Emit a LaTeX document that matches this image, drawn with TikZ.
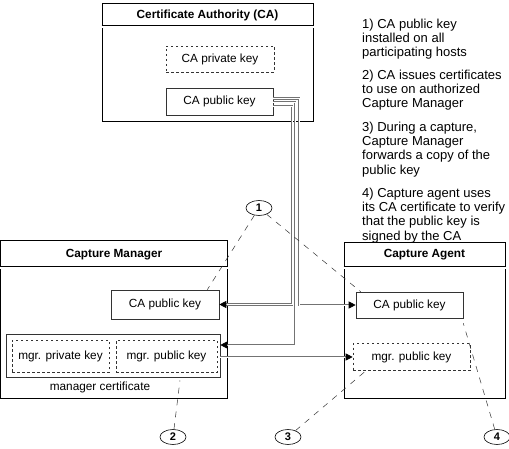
\documentclass[tikz,border=0pt]{standalone}
\usepackage{fontspec}
\setmainfont{Liberation Sans}
\usetikzlibrary{shapes.geometric,arrows.meta}

\begin{document}
\begin{tikzpicture}[%
    x=1pt, y=-1pt,
    panel/.style={%
        draw,
        line width=1pt,
        inner sep=0pt,
    },
    title/.style={font=\fontsize{11.8}{14}\selectfont\bfseries},
    keybox/.style={%
        draw=black!80,
        line width=0.6pt,
        inner sep=0pt,
        font=\fontsize{11.8}{14}\selectfont,
    },
    dashbox/.style={keybox, dash pattern=on 2.5pt off 2.5pt},
    rule/.style={double, double distance=2pt, line width=0.5pt},
    wire/.style={%
        draw=black!55,
        double=white,
        double distance=0.5pt,
        line width=0.8pt,
        -{Triangle[length=7pt,width=7pt,black]},
    },
    callout/.style={draw=black!80, line width=0.5pt, dash pattern=on 6pt off 6pt},
    num/.style={%
        ellipse, draw,
        line width=0.6pt,
        minimum width=26pt,
        minimum height=15pt,
        inner sep=0pt,
        font=\fontsize{11}{12}\selectfont\bfseries,
    },
    note/.style={anchor=north west, align=left, inner sep=0pt, font=\fontsize{13}{14.3}\selectfont},
]
\useasboundingbox (0,0) rectangle (509,449);

% 三个外框
\node[panel, minimum width=211pt, minimum height=118pt] (ca) at (207.5,63) {};
\node[title] (catitle) at (207.5,15) {Certificate Authority (CA)};
\draw[rule] ([yshift=-23.5pt]ca.north west) -- ([yshift=-23.5pt]ca.north east);

\node[panel, minimum width=227pt, minimum height=157pt] (mgr) at (114,319.5) {};
\node[title] (mgrtitle) at (114,255) {Capture Manager};
\draw[rule] ([yshift=-27.5pt]mgr.north west) -- ([yshift=-27.5pt]mgr.north east);

\node[panel, minimum width=161pt, minimum height=155pt] (agent) at (424.5,320.5) {};
\node[title] (agenttitle) at (424.5,255) {Capture Agent};
\draw[rule] ([yshift=-25.5pt]agent.north west) -- ([yshift=-25.5pt]agent.north east);

% 密钥框
\node[dashbox, minimum width=108pt, minimum height=26pt] (capriv) at (220,59) {CA private key};
\node[keybox, minimum width=107pt, minimum height=27pt] (capub) at (219.5,101.5) {CA public key};

\node[keybox, minimum width=108pt, minimum height=29pt] (mcapub) at (165,304.5) {CA public key};
\node[keybox, minimum width=214pt, minimum height=43pt] (cert) at (113,355.5) {};
\node[dashbox, minimum width=97pt, minimum height=32pt] (mpriv) at (60.5,356) {mgr. private key};
\node[dashbox, minimum width=101pt, minimum height=32pt] (mpub) at (166.5,356) {mgr. public key};
\node[font=\fontsize{11.8}{14}\selectfont] (certlabel) at (100,387) {manager certificate};

\node[keybox, minimum width=107pt, minimum height=26pt] (acapub) at (409.5,305) {CA public key};
\node[dashbox, minimum width=117pt, minimum height=27pt] (ampub) at (411.5,357) {mgr. public key};

% 连线
\draw[wire] ([yshift=-4.5pt]capub.east) -- ++(19,0) |- (mcapub.east);
\draw[wire] ([yshift=-0.5pt]capub.east) -- ++(22,0) |- ([yshift=10.5pt]cert.east);
\draw[wire] ([yshift=3pt]capub.east) -- ++(25.5,0) |- (acapub.west);
\draw[wire] (cert.east |- ampub.west) -- (ampub.west);

% 编号
\node[num] (n1) at (259,208) {1};
\node[num] (n2) at (173,437) {2};
\node[num] (n3) at (288,437) {3};
\node[num] (n4) at (497,437) {4};

\draw[callout] (n1) -- ([xshift=-12pt]mcapub.north east);
\draw[callout] (n1) -- ([xshift=5pt]acapub.north west);
\draw[callout] (n2) -- ([xshift=67pt,yshift=-3pt]cert.south);
\draw[callout] (n3) -- ([xshift=12pt,yshift=-1pt]ampub.south west);
\draw[callout] (n4) -- ([yshift=-5pt]acapub.south east);

% 说明文字
\node[note] (t1) at (362,18.5) {1) CA public key\\installed on all\\participating hosts};
\node[note] (t2) at (362,69.5) {2) CA issues certificates\\to use on authorized\\Capture Manager};
\node[note] (t3) at (362,121.5) {3) During a capture,\\Capture Manager\\forwards a copy of the\\public key};
\node[note] (t4) at (362,187.5) {4) Capture agent uses\\its CA certificate to verify\\that the public key is\\signed by the CA};

\end{tikzpicture}
\end{document}
